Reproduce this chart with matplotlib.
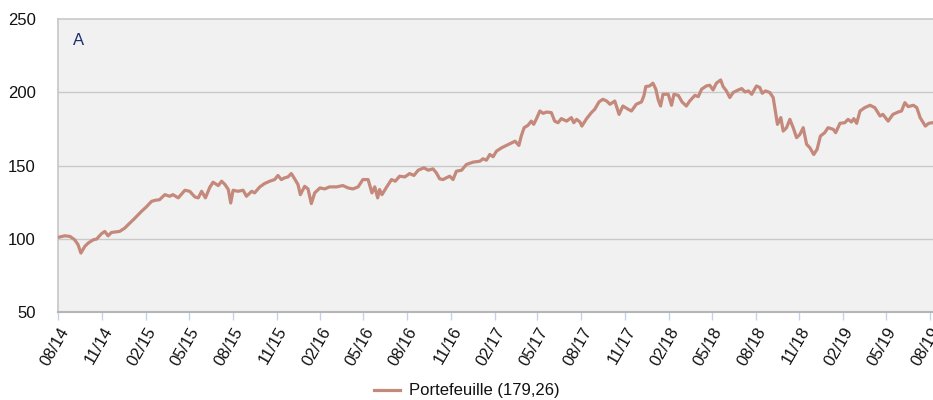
import numpy as np
import pandas as pd
import matplotlib
matplotlib.use("Agg")
import matplotlib.pyplot as plt
import matplotlib.dates as mdates

plt.rcParams['font.family'] = ['Liberation Sans', 'DejaVu Sans']

start_date = "2014-08-01"
day_offsets = [
    0, 13, 24, 34, 41, 47, 55, 62, 73, 80, 90, 97, 104, 111, 128, 139, 146, 160, 174, 184,
    195, 202, 212, 223, 233, 240, 251, 265, 275, 286, 293, 300, 308, 317, 324,
    335, 342, 349, 356, 361, 366, 376, 387, 394, 405, 411, 422, 432, 443, 453, 460, 467,
    474, 481, 488, 495, 502, 507, 516, 523, 530, 537, 548, 558, 568, 583, 596, 607, 617,
    628, 638, 649,
    657, 663, 669, 673, 678, 688, 698, 706, 715, 726, 736, 745, 754, 766, 775, 785, 792,
    799, 806, 813, 820, 827, 834, 845, 855, 869, 883, 890, 897, 904, 911, 918, 929, 939,
    950, 957, 965, 970, 976,
    984, 991, 996, 1002, 1009, 1016, 1023, 1033, 1040, 1047, 1054, 1065, 1075, 1080, 1086,
    1093, 1097, 1107, 1117, 1124, 1133, 1141, 1149, 1156, 1166, 1175, 1183, 1194, 1201,
    1211, 1222, 1227, 1231, 1239, 1246, 1252, 1257, 1262, 1267, 1278, 1285, 1290, 1299,
    1307, 1316, 1323, 1334, 1341, 1348, 1358, 1365, 1372, 1379, 1388, 1393, 1400, 1407,
    1414, 1425, 1432, 1439, 1446, 1453, 1463, 1470, 1475, 1482, 1491, 1498, 1503, 1507,
    1514, 1519, 1526, 1533, 1540, 1547, 1554, 1561,
    1568, 1575, 1583, 1590, 1597, 1606, 1613, 1624, 1629, 1638, 1648, 1655, 1662, 1667,
    1673, 1680, 1690, 1701, 1711, 1722, 1728, 1739, 1749, 1760, 1767, 1774, 1781, 1792,
    1799, 1806, 1817, 1824, 1833,
]
portefeuille = [
    101.0, 102.0, 101.6, 99.3, 96.0, 90.2, 94.7, 97.0, 99.3, 99.8, 103.4, 105.0, 102.0, 104.3,
    105.0, 107.3, 109.6, 114.0, 118.7, 121.7,
    125.5, 126.2, 126.7, 130.1, 129.0, 130.1, 127.9, 133.1, 132.4, 128.5, 127.9, 132.4, 127.9,
    135.0, 138.6,
    136.3, 139.3, 137.0, 133.6, 124.4, 133.1, 132.4, 133.1, 129.0, 132.4, 131.3, 135.4, 137.7,
    139.3, 140.4, 143.2, 140.4,
    141.6, 142.2, 144.5, 140.9, 137.0, 130.1, 135.8, 134.0, 124.0, 131.3, 134.7, 134.0, 135.4,
    135.4, 136.3, 134.7, 134.0,
    135.4, 140.4, 140.4,
    131.3, 135.4, 127.9, 133.6, 130.1, 135.4, 140.4, 139.3, 142.7, 142.2, 144.5, 143.2, 146.8,
    148.4, 146.8, 147.7, 145.0,
    140.9, 140.4, 141.6, 142.7, 140.4, 146.1, 146.8, 150.7, 152.3, 152.9, 154.6, 153.6, 157.5,
    156.0, 159.8, 162.1, 163.7,
    165.5, 166.6, 163.7, 170.1, 175.8,
    177.4, 180.3, 178.1, 182.0, 187.2, 185.6, 186.5, 186.1, 180.3, 179.2, 182.0, 180.3, 182.7,
    179.2, 181.5,
    179.7, 176.9, 182.0, 186.1, 188.4, 193.4, 195.2, 194.0, 191.8, 194.0, 184.9, 190.6, 188.4,
    187.2,
    191.8, 193.4, 197.5, 203.9, 204.3, 206.2, 202.1, 194.9, 190.6, 198.6, 198.6, 191.1, 198.6,
    197.9,
    193.4, 190.6, 194.0, 197.9, 197.0, 202.1, 204.3, 204.8, 201.6, 206.2, 208.4, 203.9, 200.9,
    196.4,
    199.8, 201.6, 202.5, 200.2, 200.9, 198.6, 204.3, 203.2, 199.3, 200.9, 199.8, 196.4, 186.1,
    178.1,
    182.7, 173.5, 175.8, 181.5, 175.8, 169.0, 171.2, 175.8,
    164.5, 162.1, 157.5, 161.0, 170.1, 172.4, 175.8, 174.7, 172.4, 178.8, 179.2, 181.5, 179.7,
    182.0,
    178.8, 187.2, 189.5, 191.1, 189.5, 183.8, 184.9, 180.3, 184.9, 186.5, 187.2, 192.9, 190.2,
    191.1,
    189.5, 182.7, 176.9, 178.8, 179.26,
]
tick_labels = ["08/14", "11/14", "02/15", "05/15", "08/15", "11/15", "02/16", "05/16",
               "08/16", "11/16", "02/17", "05/17", "08/17", "11/17", "02/18", "05/18",
               "08/18", "11/18", "02/19", "05/19", "08/19"]
y_ticks = [50, 100, 150, 200, 250]
series_label = "Portefeuille (179,26)"
panel_label = "A"

dates = pd.Timestamp(start_date) + pd.to_timedelta(day_offsets, unit="D")
tick_dates = [pd.to_datetime("01/" + t, format="%d/%m/%y") for t in tick_labels]

fig = plt.figure(figsize=(9.33, 4.0), dpi=100)
ax = fig.add_axes([58 / 933, 1 - 312 / 400, (933 - 58) / 933, (312 - 19) / 400])
ax.set_facecolor("#f1f1f1")

line_color = "#c4897a"
ax.plot(dates, portefeuille, color=line_color, lw=2.3, solid_joinstyle="round",
        label=series_label, zorder=3)

ax.set_ylim(50, 250)
ax.set_yticks(y_ticks)
for y in [100, 150, 200]:
    ax.axhline(y, color="#c9c9c9", lw=1.0, zorder=1)

ax.set_xlim(pd.Timestamp("2014-07-31"), pd.Timestamp("2019-08-08"))
ax.set_xticks(tick_dates)
ax.set_xticklabels(tick_labels, rotation=60, ha="right", rotation_mode="anchor",
                   fontsize=12, color="#111111")
ax.tick_params(axis="x", length=6, width=1, color="#c5d2ea", pad=3)
ax.tick_params(axis="y", length=0, pad=16, labelsize=12, labelcolor="#111111")
for lbl in ax.get_yticklabels():
    lbl.set_horizontalalignment("right")

for side in ["top", "right"]:
    ax.spines[side].set_visible(False)
ax.axhline(250, color="#c9c9c9", lw=1.2, zorder=1, clip_on=False)
ax.spines["left"].set_color("#c6c6c6")
ax.spines["left"].set_linewidth(1.2)
ax.spines["bottom"].set_color("#b5b5b5")
ax.spines["bottom"].set_linewidth(1.5)

ax.text(0.017, 0.925, panel_label, transform=ax.transAxes, fontsize=12,
        color="#1f2f6e", ha="left", va="center")

leg = fig.legend(loc="center", bbox_to_anchor=(0.5, 1 - 391 / 400), frameon=False,
                 fontsize=12, handlelength=1.6, handletextpad=0.5)
for t in leg.get_texts():
    t.set_color("#111111")

fig.savefig("out.png", dpi=100)
